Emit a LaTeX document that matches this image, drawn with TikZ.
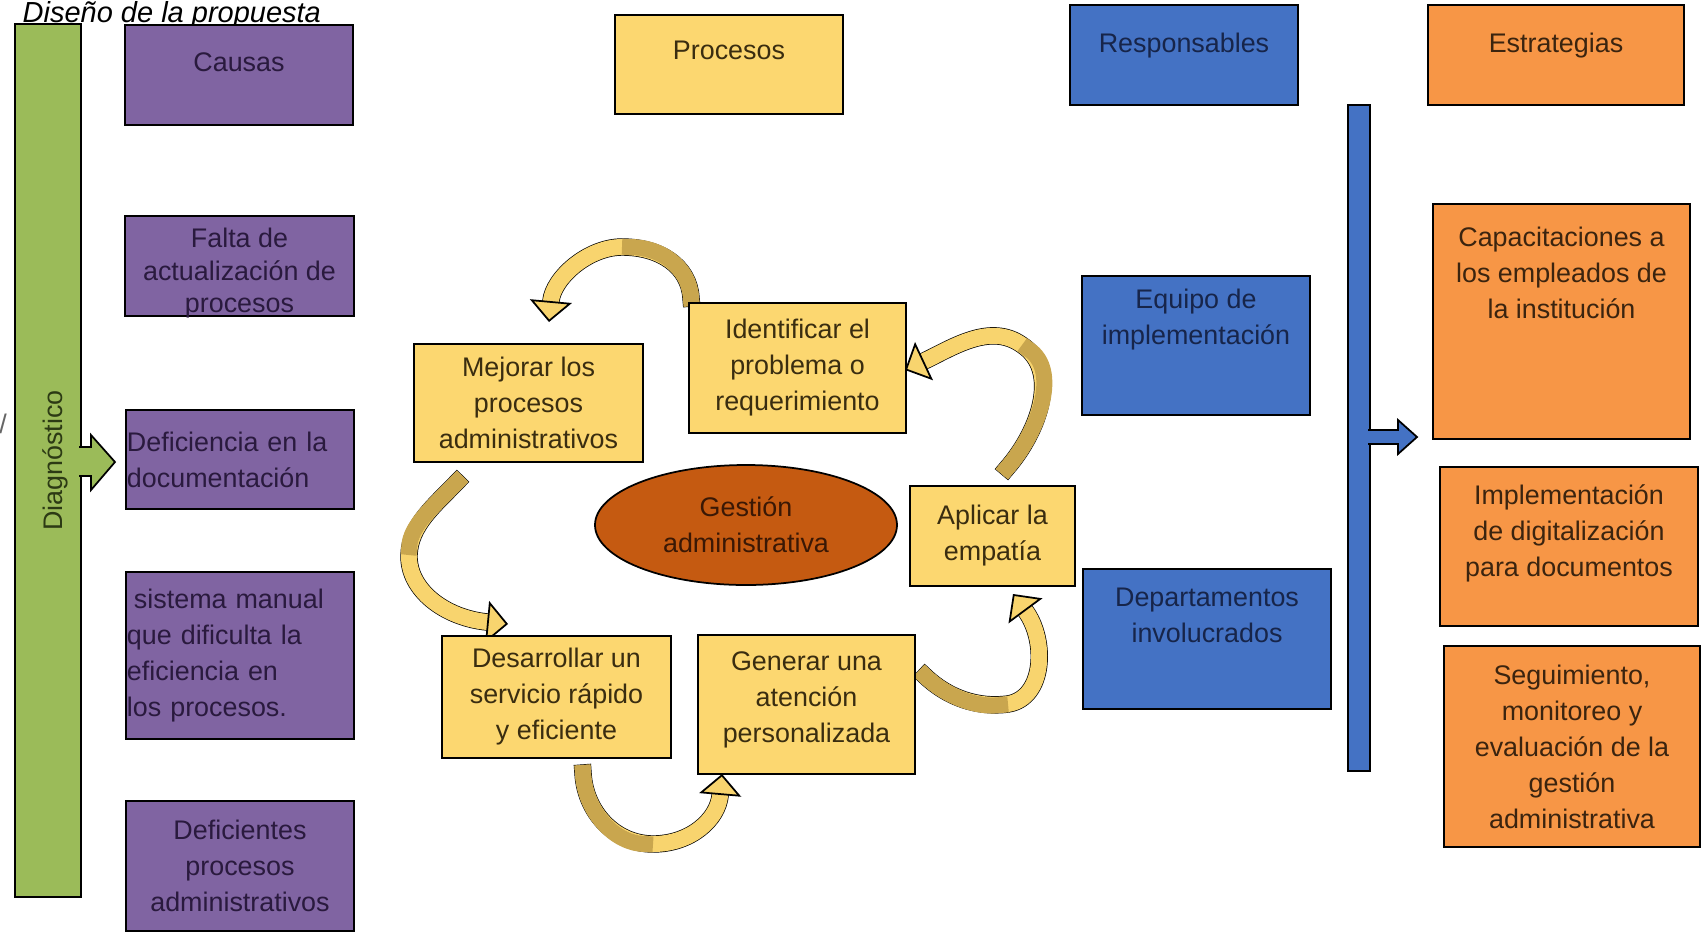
\documentclass[tikz,border=0pt]{standalone}
\usepackage{fontspec}
\setmainfont{Liberation Sans}
\usetikzlibrary{arrows.meta,shapes.geometric,backgrounds}

\definecolor{diaggreen}{HTML}{9BBB59}
\definecolor{causepurple}{HTML}{8064A2}
\definecolor{procyellow}{HTML}{FCD770}
\definecolor{respblue}{HTML}{4472C4}
\definecolor{stratorange}{HTML}{F79646}
\definecolor{gestbrown}{HTML}{C55A11}
\definecolor{bandlight}{HTML}{F8D46E}
\definecolor{banddark}{HTML}{C9A64E}
\definecolor{greentext}{HTML}{2C3A14}
\definecolor{causetext}{HTML}{2A1A3E}
\definecolor{proctext}{HTML}{3A2D10}
\definecolor{resptext}{HTML}{17254A}
\definecolor{strattext}{HTML}{3B240F}
\definecolor{gesttext}{HTML}{3A1805}

\newcommand{\topbox}[4]{\parbox[c][#2][t]{#1}{\centering\rule{0pt}{#3}#4}}

\begin{document}
\begin{tikzpicture}[x=0.2mm, y=-0.2mm, line width=0.35mm,
    font=\fontsize{15.3}{20.5}\selectfont,
    band/.style={draw=black, double=bandlight, double distance=3.2mm, line cap=rect,
      -{Triangle[width=8.4mm, length=4.2mm, line width=0.35mm, fill=bandlight]}},
    bandshade/.style={draw=banddark, line width=3.2mm, line cap=rect, shorten >=1.6mm}]
    \useasboundingbox (0,0) rectangle (1702,933);

    \node[anchor=base west, font=\fontsize{16.5}{20}\selectfont\itshape] (titulo) at (16,22) {Diseño de la propuesta};
    \node[text=black!60] (barra) at (3,424) {/};

    \node[draw, fill=diaggreen, text=greentext, rotate=90, inner sep=0pt, text height=19pt, text depth=3pt,
      minimum width=174.6mm, minimum height=13.2mm] (diag) at (48,460.5) {Diagnóstico};
    \filldraw[fill=diaggreen] (79,447) -- (91,447) -- (91,435) -- (115,462) -- (91,490) -- (91,476) -- (79,476);

    \begin{scope}[every node/.style={rectangle, draw, fill=causepurple, text=causetext, inner sep=0pt,
        minimum width=45.6mm, align=center}]
        \node (causas) at (239,75) {\topbox{45.6mm}{20mm}{9.2mm}{Causas}};
        \node[font=\fontsize{15.3}{18.5}\selectfont] (falta) at (239.5,266) {\topbox{45.8mm}{20mm}{6.3mm}{Falta de\\actualización de\\procesos}};
        \node[minimum height=19.8mm, text width=45.2mm, align=left] (deficiencia) at (240,459.5) {Deficiencia en la\\documentación};
        \node[minimum height=33.4mm, text width=45.2mm, align=left] (sistema) at (240,655.5) {\hspace{1.4mm}sistema manual\\que dificulta la\\eficiencia en\\los procesos.};
        \node[minimum height=26mm] (deficientes) at (240,866) {Deficientes\\procesos\\administrativos};
    \end{scope}

    \begin{scope}[every node/.style={rectangle, draw, fill=procyellow, text=proctext, inner sep=0pt, align=center}]
        \node (procesos) at (729,64.5) {\topbox{45.6mm}{19.8mm}{8.9mm}{Procesos}};
        \node[minimum width=45.8mm, minimum height=23.6mm] (mejorar) at (528.5,403) {Mejorar los\\procesos\\administrativos};
        \node[minimum width=43.4mm, minimum height=26mm] (identificar) at (797.5,368) {Identificar el\\problema o\\requerimiento};
        \node[minimum width=33mm, minimum height=20mm] (aplicar) at (992.5,536) {Aplicar la\\empatía};
        \node[minimum width=45.8mm, minimum height=24.4mm] (desarrollar) at (556.5,697) {Desarrollar un\\servicio rápido\\y eficiente};
        \node (generar) at (806.5,704.5) {\topbox{43.4mm}{27.8mm}{7.1mm}{Generar una\\atención\\personalizada}};
    \end{scope}

    \node[ellipse, draw, fill=gestbrown, text=gesttext, inner sep=0pt, align=center,
      minimum width=60.4mm, minimum height=24mm] (gestion) at (746,525) {Gestión\\administrativa};

    \begin{scope}[every node/.style={rectangle, draw, fill=respblue, text=resptext, inner sep=0pt, align=center}]
        \node (responsables) at (1184,55) {\topbox{45.6mm}{20mm}{9.5mm}{Responsables}};
        \node (equipo) at (1196,345.5) {\topbox{45.6mm}{27.8mm}{6.4mm}{Equipo de\\implementación}};
        \node (departamentos) at (1207,639) {\topbox{49.6mm}{28mm}{7.4mm}{Departamentos\\involucrados}};
        \node[minimum width=4.4mm, minimum height=133.2mm] (bluebar) at (1359,438) {};
    \end{scope}
    \filldraw[fill=respblue] (1368,430) -- (1398,430) -- (1398,420) -- (1417,437) -- (1398,454) -- (1398,444) -- (1368,444);

    \begin{scope}[every node/.style={rectangle, draw, fill=stratorange, text=strattext, inner sep=0pt, align=center}]
        \node (estrategias) at (1556,55) {\topbox{51.2mm}{20mm}{9.5mm}{Estrategias}};
        \node (capacitaciones) at (1561.5,321.5) {\topbox{51.4mm}{47mm}{8.4mm}{Capacitaciones a\\los empleados de\\la institución}};
        \node (implementacion) at (1569,546.5) {\topbox{51.6mm}{31.8mm}{7.4mm}{Implementación\\de digitalización\\para documentos}};
        \node[minimum width=51.2mm, minimum height=40.2mm] (seguimiento) at (1572,746.5) {Seguimiento,\\monitoreo y\\evaluación de la\\gestión\\administrativa};
    \end{scope}

    \coordinate (a-tail) at (691,298);
    \coordinate (a-mid) at (622,247);
    \coordinate (a-tip) at (549,322);
    \coordinate (b-tail) at (1007,468);
    \coordinate (b-mid) at (1022,345);
    \coordinate (b-tip) at (905,370);
    \coordinate (c-tail) at (925,676);
    \coordinate (c-mid) at (1008,704);
    \coordinate (c-tip) at (1013,594);
    \coordinate (d-tail) at (457,482);
    \coordinate (d-mid) at (409,555);
    \coordinate (d-tip) at (508,624);
    \coordinate (e-tail) at (583,773);
    \coordinate (e-mid) at (653,844);
    \coordinate (e-tip) at (722,774);

    \begin{pgfonlayer}{background}
        \draw[band] (a-tail) .. controls (689,266) and (660,247) .. (a-mid) .. controls (588,247) and (553,278) .. (a-tip);
        \draw[bandshade] (a-tail) .. controls (689,266) and (660,247) .. (a-mid);
        \draw[band] (b-tail) .. controls (1040,430) and (1060,370) .. (b-mid) .. controls (990,322) and (952,348) .. (b-tip);
        \draw[bandshade] (b-tail) .. controls (1040,430) and (1060,370) .. (b-mid);
        \draw[band] (c-tail) .. controls (948,698) and (978,708) .. (c-mid) .. controls (1045,698) and (1047,640) .. (c-tip);
        \draw[bandshade] (c-tail) .. controls (948,698) and (978,708) .. (c-mid);
        \draw[band] (d-tail) .. controls (435,505) and (410,525) .. (d-mid) .. controls (408,590) and (445,618) .. (d-tip);
        \draw[bandshade] (d-tail) .. controls (435,505) and (410,525) .. (d-mid);
        \draw[band] (e-tail) .. controls (585,812) and (615,844) .. (e-mid) .. controls (690,844) and (718,820) .. (e-tip);
        \draw[bandshade] (e-tail) .. controls (585,812) and (615,844) .. (e-mid);
    \end{pgfonlayer}

\end{tikzpicture}
\end{document}
